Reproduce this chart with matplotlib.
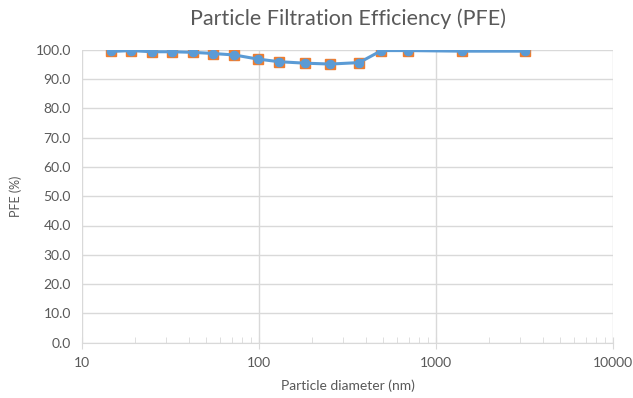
import matplotlib
matplotlib.use("Agg")
import matplotlib.pyplot as plt
from matplotlib.ticker import FixedLocator, FormatStrFormatter, LogLocator, NullFormatter

# particle diameter (nm) and filtration efficiency (%)
diameter = [14.6, 18.9, 24.8, 32.4, 42.3, 55.2, 72.6, 98.4, 130, 182, 253, 368,
            492, 695, 1400, 3170]
pfe = [99.4, 99.7, 99.3, 99.3, 99.1, 98.7, 98.2, 96.8, 95.9, 95.4, 95.1, 95.6,
       99.7, 99.7, 99.5, 99.5]

x_ticks = [10, 100, 1000, 10000]
y_ticks = [0, 10, 20, 30, 40, 50, 60, 70, 80, 90, 100]

GREY = "#595959"
GRID = "#d9d9d9"
BLUE = "#5b9bd5"
ORANGE = "#ed7d31"

plt.rcParams["font.family"] = ["Lato", "DejaVu Sans"]

fig = plt.figure(figsize=(6.33, 3.98), dpi=100)
ax = fig.add_axes([82 / 633, 1 - 342.7 / 398, (613 - 82) / 633, (342.7 - 49.7) / 398])

ax.plot(diameter, pfe, "s", color=ORANGE, markersize=7.2, zorder=3)
ax.plot(diameter, pfe, "-o", color=BLUE, linewidth=2.2, markersize=6, zorder=4)

ax.set_xscale("log")
ax.set_xlim(10, 10000)
ax.set_ylim(0, 100)
ax.xaxis.set_major_locator(FixedLocator(x_ticks))
ax.xaxis.set_major_formatter(FormatStrFormatter("%d"))
ax.xaxis.set_minor_locator(LogLocator(base=10, subs=range(2, 10)))
ax.xaxis.set_minor_formatter(NullFormatter())
ax.yaxis.set_major_locator(FixedLocator(y_ticks))
ax.yaxis.set_major_formatter(FormatStrFormatter("%.1f"))

ax.grid(True, which="major", color=GRID, linewidth=1)
ax.set_axisbelow(True)
for side in ("top", "right", "left"):
    ax.spines[side].set_visible(False)
ax.spines["bottom"].set_color(GRID)

ax.tick_params(axis="y", length=0, labelsize=10, colors=GREY, pad=8)
ax.tick_params(axis="x", which="major", direction="inout", length=8, color=GRID,
               labelsize=10, labelcolor=GREY, pad=6)
ax.tick_params(axis="x", which="minor", direction="in", length=4, color=GRID)

ax.set_xlabel("Particle diameter (nm)", fontsize=10, color=GREY, labelpad=8)
ax.set_ylabel("PFE (%)", fontsize=9, color=GREY, labelpad=10)
ax.set_title("Particle Filtration Efficiency (PFE)", fontsize=15.5, color=GREY, pad=18)

fig.savefig("out.png", dpi=100)
